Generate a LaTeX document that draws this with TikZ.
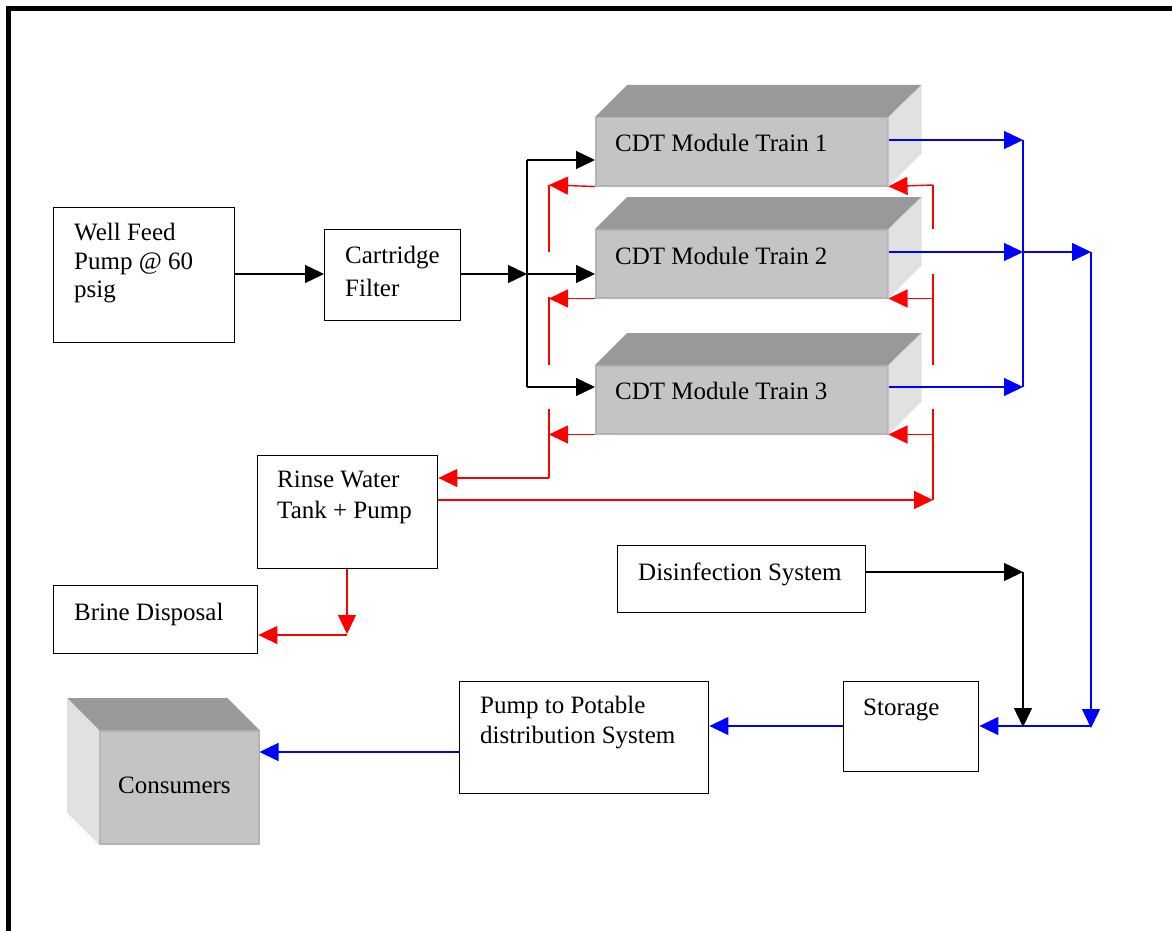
\documentclass[tikz,border=0pt]{standalone}
\usepackage{fontspec}
\setmainfont{Liberation Serif}
\usetikzlibrary{arrows.meta}
\definecolor{frontgray}{HTML}{C4C4C4}
\definecolor{topgray}{HTML}{999999}
\definecolor{sidegray}{HTML}{E1E1E1}
\definecolor{edgegray}{HTML}{B4B4B4}
\begin{document}
\begin{tikzpicture}[x=1pt,y=-1pt,
  box/.style={draw=black, line width=1.4pt, fill=white, inner sep=0pt, anchor=north west},
  lbl/.style={anchor=base west, inner sep=0pt, font=\fontsize{25}{30}\selectfont},
  front/.style={fill=frontgray, draw=edgegray, line width=1.5pt, inner sep=0pt, anchor=north west},
  con/.style={line width=1.4pt, -{Triangle[length=19pt,width=18pt]}},
  seg/.style={line width=1.4pt},
  bk/.style={con, black}, bl/.style={con, blue}, rd/.style={con, red},
  bks/.style={seg, black}, bls/.style={seg, blue}, rds/.style={seg, red}]
\useasboundingbox (0,0) rectangle (1172,931);
% outer frame
\draw[line width=4.5pt] (8.5,935) -- (8.5,8.5) -- (1176,8.5);

% CDT module trains
\newcommand\cdttrain[4]{%
  \node[front, minimum width=292pt, minimum height=68pt] (#1) at (595,#2) {};
  \fill[topgray] (#1.north west) -- ++(32,-32) -- ([shift={(33,-32)}]#1.north east) -- (#1.north east) -- cycle;
  \fill[sidegray] (#1.north east) -- ++(33,-32) -- ([shift={(33,-33)}]#1.south east) -- (#1.south east) -- cycle;
  \node[lbl] (#1l) at (615,#3) {#4};
}
\cdttrain{t1}{117}{151}{CDT Module Train 1}
\cdttrain{t2}{229}{264}{CDT Module Train 2}
\cdttrain{t3}{365}{399}{CDT Module Train 3}

% Consumers (3D box)
\node[front, minimum width=159pt, minimum height=113pt] (cons) at (99,730) {};
\fill[topgray] (cons.north west) -- ++(-32,-32) -- ([shift={(-32,-32)}]cons.north east) -- (cons.north east) -- cycle;
\fill[sidegray] (cons.north west) -- ++(-32,-32) -- ([shift={(-32,-32)}]cons.south west) -- (cons.south west) -- cycle;
\node[lbl] (consl) at (118,793) {Consumers};

% plain boxes
\node[box, minimum width=181pt, minimum height=135pt] (well) at (53,207) {};
\node[lbl] (welll1) at (74,240) {Well Feed};
\node[lbl] (welll2) at (74,269) {Pump @ 60};
\node[lbl] (welll3) at (74,297) {psig};

\node[box, minimum width=136pt, minimum height=91pt] (cart) at (324,229) {};
\node[lbl] (cartl1) at (345,263) {Cartridge};
\node[lbl] (cartl2) at (345,296) {Filter};

\node[box, minimum width=180pt, minimum height=113pt] (rinse) at (257,455) {};
\node[lbl] (rinsel1) at (277,487) {Rinse Water};
\node[lbl] (rinsel2) at (277,518) {Tank + Pump};

\node[box, minimum width=204pt, minimum height=68pt] (brine) at (53,585) {};
\node[lbl] (brinel) at (74,620) {Brine Disposal};

\node[box, minimum width=248pt, minimum height=67pt] (dis) at (617,545) {};
\node[lbl] (disl) at (638,580) {Disinfection System};

\node[box, minimum width=135pt, minimum height=90pt] (stor) at (843,681) {};
\node[lbl] (storl) at (863,715) {Storage};

\node[box, minimum width=249pt, minimum height=112pt] (pump) at (459,681) {};
\node[lbl] (pumpl1) at (480,713) {Pump to Potable};
\node[lbl] (pumpl2) at (480,743) {distribution System};

% junction coordinates
\coordinate (jb1) at (527,160);
\coordinate (jb2) at (527,274);
\coordinate (jb3) at (527,387);
\coordinate (rl1a) at (549,185); \coordinate (rl1b) at (549,252);
\coordinate (rl2a) at (549,297); \coordinate (rl2b) at (549,365);
\coordinate (rl3a) at (549,409); \coordinate (rl3b) at (549,478);
\coordinate (rr1a) at (933,185); \coordinate (rr1b) at (933,229);
\coordinate (rr2a) at (933,274); \coordinate (rr2b) at (933,365);
\coordinate (rr3a) at (933,409); \coordinate (rr3b) at (933,500);
\coordinate (rd1) at (347,634);
\coordinate (bj1) at (1023,140);
\coordinate (bj2) at (1023,252);
\coordinate (bj3) at (1023,387);
\coordinate (bj4) at (1091,252);
\coordinate (bj5) at (1091,726);
\coordinate (kj1) at (1023,572);
\coordinate (kj2) at (1023,727);

% black feed lines
\draw[bk] (well.east |- 0,274) -- (cart.west |- 0,274);
\draw[bk] (cart.east |- jb2) -- (jb2);
\draw[bks] (jb1) -- (jb3);
\draw[bk] (jb1) -- (t1.west |- jb1);
\draw[bk] (jb2) -- (t2.west |- jb2);
\draw[bk] (jb3) -- (t3.west |- jb3);

% red rinse lines (left)
\draw[rd] (t1.south west) -- (rl1a);
\draw[rds] (rl1a) -- (rl1b);
\draw[rd] (t2.south west) -- (rl2a|-t2.south west);
\draw[rds] (rl2a) -- (rl2b);
\draw[rd] (t3.south west) -- (rl3a|-t3.south west);
\draw[rds] (rl3a) -- (rl3b);
\draw[rd] (rl3b) -- (rinse.east |- rl3b);
% red rinse lines (right)
\draw[rd] (rr1a) -- (t1.south east);
\draw[rds] (rr1a) -- (rr1b);
\draw[rd] (rr2a|-t2.south east) -- (t2.south east);
\draw[rds] (rr2a) -- (rr2b);
\draw[rd] (rr3a|-t3.south east) -- (t3.south east);
\draw[rds] (rr3a) -- (rr3b);
\draw[rd] (rinse.east |- rr3b) -- (rr3b);
% red to brine
\draw[rd] (rinse.south -| rd1) -- (rd1);
\draw[rd] ([yshift=-1pt]rd1) -- (brine.east |- 0,635);

% blue product lines
\draw[bl] (t1.east |- bj1) -- (bj1);
\draw[bl] (t2.east |- bj2) -- (bj2);
\draw[bl] (t3.east |- bj3) -- (bj3);
\draw[bls] (bj1) -- (bj3);
\draw[bl] (bj2) -- (bj4);
\draw[bl] (bj4) -- ([yshift=-2pt]bj5);
\draw[bl] (bj5) -- (stor.east |- bj5);
\draw[bl] (stor.west |- bj5) -- (pump.east |- bj5);
\draw[bl] (pump.west |- 0,752) -- (cons.east |- 0,752);

% disinfection
\draw[bk] (dis.east |- kj1) -- (kj1);
\draw[bk] (kj1) -- (kj2);
\end{tikzpicture}
\end{document}
